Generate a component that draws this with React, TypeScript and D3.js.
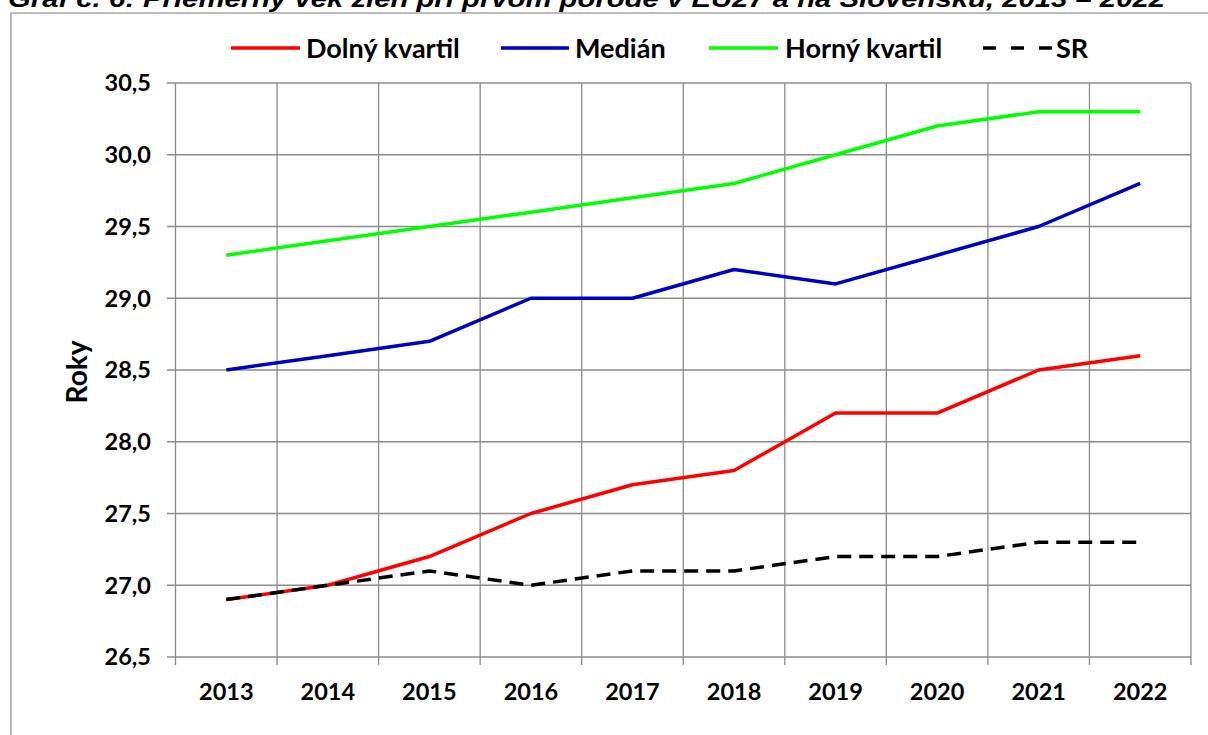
import React from "react";
import * as d3 from "d3";

const years = ["2013", "2014", "2015", "2016", "2017", "2018", "2019", "2020", "2021", "2022"];
const dolnyKvartil = [26.9, 27.0, 27.2, 27.5, 27.7, 27.8, 28.2, 28.2, 28.5, 28.6];
const median = [28.5, 28.6, 28.7, 29.0, 29.0, 29.2, 29.1, 29.3, 29.5, 29.8];
const hornyKvartil = [29.3, 29.4, 29.5, 29.6, 29.7, 29.8, 30.0, 30.2, 30.3, 30.3];
const sr = [26.9, 27.0, 27.1, 27.0, 27.1, 27.1, 27.2, 27.2, 27.3, 27.3];
const yTicks = [26.5, 27.0, 27.5, 28.0, 28.5, 29.0, 29.5, 30.0, 30.5];
const title = "Graf č. 6: Priemerný vek žien pri prvom pôrode v EÚ27 a na Slovensku, 2013 – 2022";
const yLabel = "Roky";

const series = [
  { name: "Dolný kvartil", values: dolnyKvartil, color: "#ff0000", dash: null },
  { name: "Medián", values: median, color: "#0000c0", dash: null },
  { name: "Horný kvartil", values: hornyKvartil, color: "#00ff00", dash: null },
  { name: "SR", values: sr, color: "#000000", dash: "14,8" },
];

const W = 1208;
const H = 735;
const L = 175.5, R = 1191, T = 83, B = 657;
const font = "Lato, 'Open Sans', sans-serif";

export default function App() {
  const x = d3.scaleBand<string>().domain(years).range([L, R]);
  const y = d3.scaleLinear().domain([26.5, 30.5]).range([B, T]);
  const line = d3
    .line<number>()
    .x((_, i) => (x(years[i]) as number) + x.bandwidth() / 2)
    .y((v) => y(v));
  const fmt = (v: number) => v.toFixed(1).replace(".", ",");

  const legend = [
    { x1: 231, x2: 300, tx: 306 },
    { x1: 501, x2: 569, tx: 575 },
    { x1: 709, x2: 778, tx: 785 },
    { x1: 983, x2: 1053, tx: 1056 },
  ];
  const boundaries = years.map((yr) => x(yr) as number).concat([R]);

  return (
    <svg width={W} height={H} style={{ position: "absolute", left: 0, top: 0, background: "#fff" }}>
      <rect x={0} y={0} width={W} height={H} fill="#fff" />
      <text
        x={8}
        y={7}
        fontFamily="'Liberation Sans', Arial, sans-serif"
        fontWeight="bold"
        fontStyle="italic"
        fontSize={23}
        textLength={1157}
        lengthAdjust="spacingAndGlyphs"
        fill="#000"
      >
        {title}
      </text>
      <rect x={11} y={13} width={W + 20} height={H + 20} fill="none" stroke="#999" strokeWidth={1.3} />

      {/* grid */}
      {yTicks.map((t) => (
        <line key={"gy" + t} x1={167} x2={R} y1={y(t)} y2={y(t)} stroke="#8c8c8c" strokeWidth={1.3} />
      ))}
      {boundaries.map((bx, i) => (
        <line key={"gx" + i} x1={bx} x2={bx} y1={T} y2={B + 8} stroke="#8c8c8c" strokeWidth={1.3} />
      ))}

      {/* y tick labels */}
      {yTicks.map((t) => (
        <text
          key={"ly" + t}
          x={151}
          y={y(t)}
          dy="0.36em"
          textAnchor="end"
          fontFamily={font}
          fontWeight="bold"
          fontSize={23.5}
        >
          {fmt(t)}
        </text>
      ))}
      {/* x labels */}
      {years.map((yr) => (
        <text
          key={"lx" + yr}
          x={(x(yr) as number) + x.bandwidth() / 2}
          y={692}
          dy="0.36em"
          textAnchor="middle"
          fontFamily={font}
          fontWeight="bold"
          fontSize={23.5}
        >
          {yr}
        </text>
      ))}
      <text
        transform={`translate(77,372) rotate(-90)`}
        textAnchor="middle"
        dy="0.36em"
        fontFamily={font}
        fontWeight="bold"
        fontSize={28}
      >
        {yLabel}
      </text>

      {/* lines */}
      {series.map((s) => (
        <path
          key={s.name}
          d={line(s.values) as string}
          fill="none"
          stroke={s.color}
          strokeWidth={3.5}
          strokeDasharray={s.dash ?? undefined}
          strokeLinejoin="round"
        />
      ))}

      {/* legend */}
      {series.map((s, i) => (
        <g key={"lg" + s.name}>
          <line
            x1={legend[i].x1}
            x2={legend[i].x2}
            y1={48}
            y2={48}
            stroke={s.color}
            strokeWidth={3.5}
            strokeDasharray={s.dash ? "13,15" : undefined}
          />
          <text x={legend[i].tx} y={48} dy="0.36em" fontFamily={font} fontWeight="bold" fontSize={27}>
            {s.name}
          </text>
        </g>
      ))}
    </svg>
  );
}
